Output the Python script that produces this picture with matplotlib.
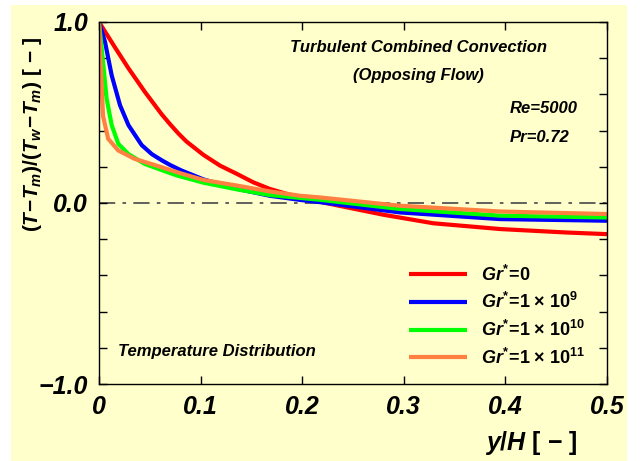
import matplotlib
matplotlib.use('Agg')
import matplotlib.pyplot as plt
from matplotlib.patches import Rectangle

plt.rcParams['font.family'] = ['Liberation Sans', 'DejaVu Sans']
plt.rcParams['mathtext.fontset'] = 'custom'
plt.rcParams['mathtext.it'] = 'Liberation Sans:bold:italic'
plt.rcParams['mathtext.rm'] = 'Liberation Sans:bold'
plt.rcParams['mathtext.bf'] = 'Liberation Sans:bold'

# data
x_gr0 = [0, 0.0157, 0.0289, 0.045, 0.0617, 0.07, 0.078, 0.086, 0.103, 0.119, 0.136, 0.152,
         0.168, 0.185, 0.2, 0.217, 0.23, 0.28, 0.329, 0.395, 0.46, 0.5]
y_gr0 = [1.0, 0.86, 0.745, 0.615, 0.49, 0.435, 0.385, 0.34, 0.265, 0.207, 0.16, 0.114,
         0.078, 0.05, 0.03, 0.008, -0.008, -0.065, -0.112, -0.144, -0.163, -0.172]

x_gr9 = [0, 0.0059, 0.0125, 0.0207, 0.029, 0.042, 0.052, 0.062, 0.07, 0.081, 0.103, 0.136, 0.168,
         0.198, 0.217, 0.296, 0.395, 0.5]
y_gr9 = [1.0, 0.89, 0.705, 0.54, 0.43, 0.32, 0.27, 0.235, 0.21, 0.18, 0.13, 0.078, 0.04,
         0.017, 0.005, -0.052, -0.089, -0.098]

x_gr10 = [0, 0.0043, 0.0075, 0.0125, 0.019, 0.029, 0.045, 0.07, 0.078, 0.103, 0.136, 0.168,
          0.198, 0.217, 0.296, 0.395, 0.5]
y_gr10 = [1.0, 0.76, 0.576, 0.43, 0.327, 0.27, 0.216, 0.165, 0.15, 0.112, 0.075, 0.044,
          0.028, 0.018, -0.033, -0.07, -0.08]

x_gr11 = [0, 0.001, 0.004, 0.009, 0.019, 0.035, 0.062, 0.081, 0.103, 0.136, 0.168, 0.198,
          0.217, 0.296, 0.395, 0.5]
y_gr11 = [1.0, 0.85, 0.48, 0.355, 0.29, 0.244, 0.197, 0.163, 0.127, 0.096, 0.064, 0.04,
          0.031, -0.015, -0.047, -0.061]

labels = [r'$\mathit{Gr^{*}\!=\!0}$',
          r'$\mathit{Gr^{*}\!=\!1\times\,10^{9}}$',
          r'$\mathit{Gr^{*}\!=\!1\times\,10^{10}}$',
          r'$\mathit{Gr^{*}\!=\!1\times\,10^{11}}$']
colors = ['#FF0000', '#0000FF', '#00FF00', '#FF8040']
xticks = [0, 0.1, 0.2, 0.3, 0.4, 0.5]
xticklabels = ['0', '0.1', '0.2', '0.3', '0.4', '0.5']
yticks = [-1.0, 0.0, 1.0]
yticklabels = ['\u22121.0', '0.0', '1.0']

bg = '#FFFFCC'
fig = plt.figure(figsize=(6.4, 4.61), dpi=100)
fig.patches.append(Rectangle((11 / 640, 0), 616 / 640, 456 / 461, transform=fig.transFigure,
                             facecolor=bg, edgecolor='none', zorder=-10))
ax = fig.add_axes([99 / 640, 1 - 384 / 461, 508 / 640, 362 / 461])
ax.set_facecolor(bg)

ax.axhline(0, color='#555555', lw=1.3, ls=(0, (9, 4, 2, 4)), zorder=1)
for xs, ys, c, lab in zip([x_gr0, x_gr9, x_gr10, x_gr11], [y_gr0, y_gr9, y_gr10, y_gr11], colors, labels):
    ax.plot(xs, ys, color=c, lw=3, label=lab, solid_capstyle='butt', solid_joinstyle='round', zorder=2)

ax.set_xlim(0, 0.5)
ax.set_ylim(-1, 1)
ax.set_xticks(xticks)
ax.set_xticklabels(xticklabels)
ax.set_yticks(yticks)
ax.set_yticklabels(yticklabels)
ax.set_yticks([-0.8, -0.6, -0.4, -0.2, 0.2, 0.4, 0.6, 0.8], minor=True)
ax.tick_params(which='both', direction='in', top=True, right=True, length=6, width=1)
ax.tick_params(axis='both', labelsize=18, pad=8)
for t in ax.get_xticklabels() + ax.get_yticklabels():
    t.set_fontweight('bold')
    t.set_fontstyle('italic')
for s in ax.spines.values():
    s.set_linewidth(1)

fig.text(33 / 640, 1 - 135 / 461, r'$\mathit{(T\!-\!T_m)/(T_w\!-\!T_m)}$ [ $-$ ]', rotation=90,
         fontsize=15, fontweight='bold', ha='center', va='center')
fig.text(578 / 640, 1 - 443 / 461, r'$\mathit{y/H}$ [ $-$ ]', fontsize=18, fontweight='bold',
         ha='right', va='center')

ax.text(0.314, 0.86, 'Turbulent Combined Convection', fontsize=12, fontweight='bold',
        fontstyle='italic', ha='center', va='center')
ax.text(0.314, 0.705, '(Opposing Flow)', fontsize=12, fontweight='bold',
        fontstyle='italic', ha='center', va='center')
ax.text(0.4045, 0.52, 'Re=5000', fontsize=12, fontweight='bold', fontstyle='italic', va='center')
ax.text(0.4045, 0.36, 'Pr=0.72', fontsize=12, fontweight='bold', fontstyle='italic', va='center')
ax.text(0.019, -0.82, 'Temperature Distribution', fontsize=12, fontweight='bold',
        fontstyle='italic', va='center')

ax.legend(loc='lower right', bbox_to_anchor=(0.99, 0.0), frameon=False, fontsize=13,
          handlelength=3.2, handletextpad=0.8, labelspacing=0.42)

fig.savefig('out.png', dpi=100, facecolor='white')
